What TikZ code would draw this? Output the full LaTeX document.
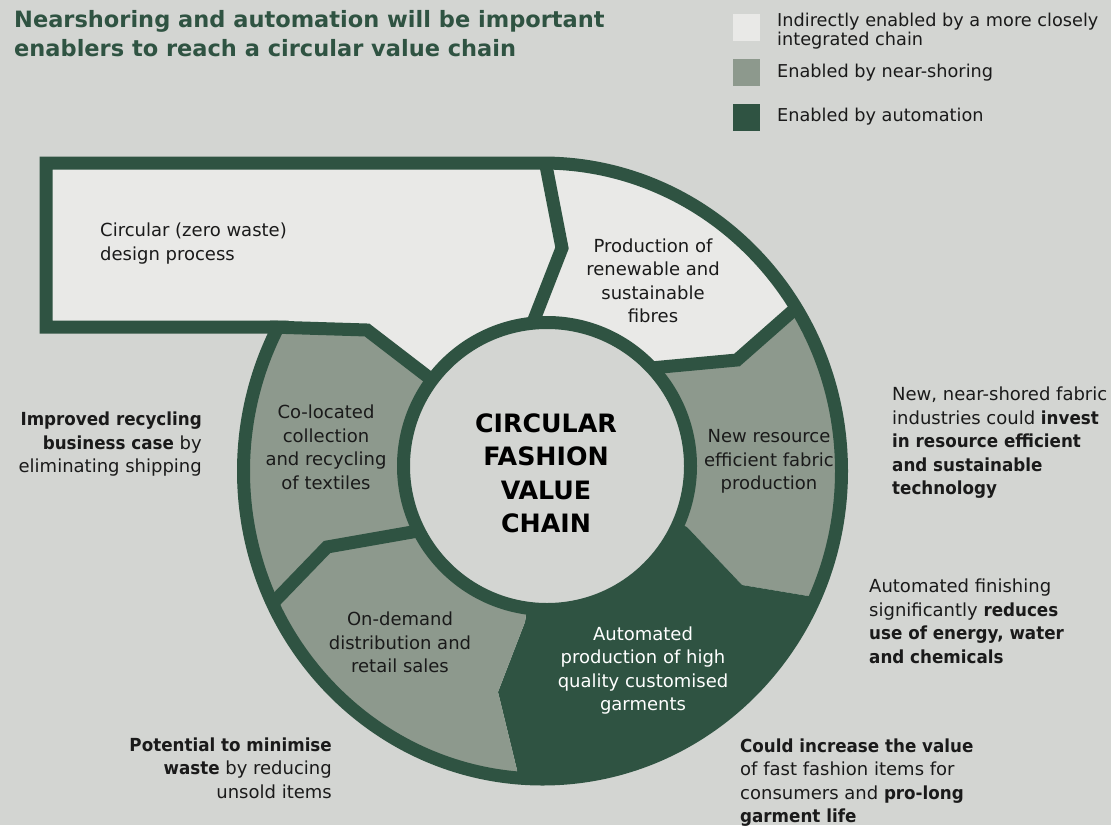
\documentclass[tikz,border=0pt]{standalone}
\usepackage{fontspec}
\setmainfont{DejaVu Sans}[BoldFeatures={FakeStretch=0.93}]
\newfontfamily\titlefont{DejaVu Sans}
\usetikzlibrary{calc}
\definecolor{bgc}{HTML}{D3D5D2}
\definecolor{lightc}{HTML}{E9E9E7}
\definecolor{midc}{HTML}{8D998D}
\definecolor{darkc}{HTML}{2F5342}
\definecolor{textc}{HTML}{1A1A1A}
\begin{document}
\begin{tikzpicture}[x=1pt,y=-1pt,
  body/.style={font=\fontsize{18}{23.5}\selectfont, text=textc, inner sep=0pt},
  legtext/.style={font=\fontsize{17.7}{18.5}\selectfont, text=textc, inner sep=0pt, anchor=west, align=left},
  border/.style={draw=darkc, line width=13pt, line join=miter},
  legbox/.style={minimum width=27pt, minimum height=27pt, inner sep=0pt, draw=none}]
\fill[bgc] (0,0) rectangle (1111,825);
\useasboundingbox (0,0) rectangle (1111,825);

\coordinate (C) at (547,466);
\coordinate (O) at (542.5,471);

% base light fills
\fill[lightc] (O) ellipse [x radius=299, y radius=308];
\fill[lightc] (46,163) rectangle (545,327);

% segment fills
\begin{scope}
\clip (O) ellipse [x radius=299, y radius=308];
\fill[midc] (C) -- (653,368) -- (737,360) -- (797,307) -- (900,216) -- (950,250) -- (950,620) -- (820,598) -- (742,585) -- (687,527) -- cycle;
\fill[darkc] (C) -- (687,527) -- (742,585) -- (820,598) -- (950,620) -- (950,900) -- (520,900) -- (517,770) -- (498,692) -- (525,622) -- cycle;
\fill[midc] (C) -- (525,622) -- (498,692) -- (517,770) -- (520,900) -- (150,900) -- (200,680) -- (273,603) -- (327,547) -- (410,533) -- cycle;
\fill[midc] (C) -- (410,533) -- (327,547) -- (273,603) -- (200,680) -- (150,680) -- (150,327) -- (367,330) -- (430,378) -- cycle;
\end{scope}

% outer border
\draw[border] (46,163) -- (542.5,163) arc[start angle=-90, end angle=207.87, x radius=299, y radius=308] -- (46,327) -- cycle;

% dividers
\draw[border] (545.5,163) -- (562,248) -- (530,330);
\draw[border] (640,369) -- (737,360) -- (800,304.5);
\draw[border] (270,327) -- (367,330) -- (436,383);
\draw[border] (418,531) -- (327,547) -- (271,605);

% inner circle
\node[circle, fill=bgc, draw=darkc, line width=13pt, minimum size=287pt, inner sep=0pt] (hub) at (C) {};
\node[font=\titlefont\fontsize{25.3}{33.5}\selectfont\bfseries, text=black, align=center, inner sep=0pt] (hubtext) at (546,473.5) {CIRCULAR\\FASHION\\VALUE\\CHAIN};

% segment texts
\node[body, align=left, anchor=west] (design) at (100,243.5) {Circular (zero waste)\\design process};
\node[body, align=center] (fibres) at (653,281) {Production of\\renewable and\\sustainable\\fibres};
\node[body, align=center] (fabric) at (769,461.5) {New resource\\efficient fabric\\production};
\node[body, align=center, text=white] (garments) at (643,670.5) {Automated\\production of high\\quality customised\\garments};
\node[body, align=center] (retail) at (400,642.5) {On-demand\\distribution and\\retail sales};
\node[body, align=center] (recycle) at (326,447.5) {Co-located\\collection\\and recycling\\of textiles};

% annotations
\node[body, align=right, anchor=east] (noteL) at (202,444.5) {\textbf{Improved recycling}\\\textbf{business case} by\\eliminating shipping};
\node[body, align=left, anchor=west] (noteR1) at (892,443) {New, near-shored fabric\\industries could \textbf{invest}\\\textbf{in resource efficient}\\\textbf{and sustainable}\\\textbf{technology}};
\node[body, align=left, anchor=west] (noteR2) at (869,621.5) {Automated finishing\\significantly \textbf{reduces}\\\textbf{use of energy, water}\\\textbf{and chemicals}};
\node[body, align=right, anchor=east] (noteBL) at (332,768) {\textbf{Potential to minimise}\\\textbf{waste} by reducing\\unsold items};
\node[body, align=left, anchor=west] (noteBR) at (740,782.5) {\textbf{Could increase the value}\\of fast fashion items for\\consumers and \textbf{pro-long}\\\textbf{garment life}};

% title
\node[font=\titlefont\fontsize{22.5}{29}\selectfont\bfseries, text=darkc, align=left, anchor=west, inner sep=0pt] (title) at (14,33.5) {Nearshoring and automation will be important\\enablers to reach a circular value chain};

% legend
\node[legbox, fill=lightc] (lg1) at (746.5,27.5) {};
\node[legbox, fill=midc] (lg2) at (746.5,72.5) {};
\node[legbox, fill=darkc] (lg3) at (746.5,117.5) {};
\node[legtext] (lt1) at (777,31) {Indirectly enabled by a more closely\\integrated chain};
\node[legtext] (lt2) at (777,73) {Enabled by near-shoring};
\node[legtext] (lt3) at (777,117) {Enabled by automation};
\end{tikzpicture}
\end{document}
